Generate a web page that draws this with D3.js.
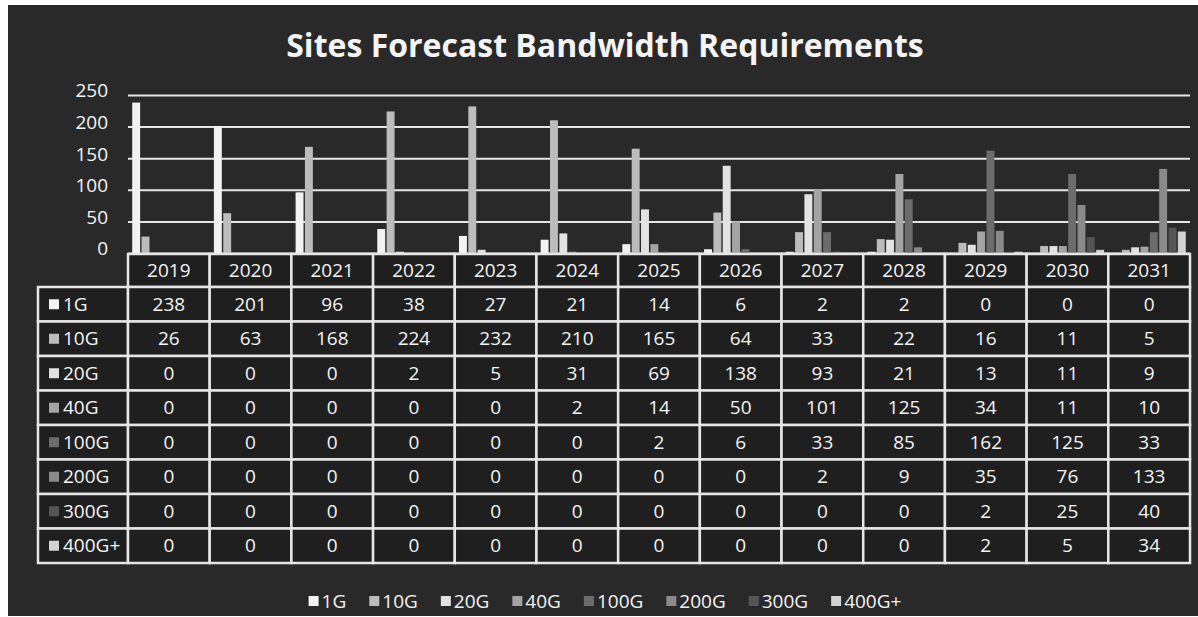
<!DOCTYPE html>
<html>
<head>
<meta charset="utf-8">
<script src="https://cdn.jsdelivr.net/npm/d3@7"></script>
<style>
  html, body { margin: 0; padding: 0; background: #fff; }
  svg { display: block; font-family: "Open Sans", "Noto Sans", sans-serif; }
</style>
</head>
<body>
<div id="viz"></div>
<script>
// data
const years = ["2019", "2020", "2021", "2022", "2023", "2024", "2025", "2026", "2027", "2028", "2029", "2030", "2031"];
const seriesNames = ["1G", "10G", "20G", "40G", "100G", "200G", "300G", "400G+"];
const s1G   = [238, 201, 96, 38, 27, 21, 14, 6, 2, 2, 0, 0, 0];
const s10G  = [26, 63, 168, 224, 232, 210, 165, 64, 33, 22, 16, 11, 5];
const s20G  = [0, 0, 0, 2, 5, 31, 69, 138, 93, 21, 13, 11, 9];
const s40G  = [0, 0, 0, 0, 0, 2, 14, 50, 101, 125, 34, 11, 10];
const s100G = [0, 0, 0, 0, 0, 0, 2, 6, 33, 85, 162, 125, 33];
const s200G = [0, 0, 0, 0, 0, 0, 0, 0, 2, 9, 35, 76, 133];
const s300G = [0, 0, 0, 0, 0, 0, 0, 0, 0, 0, 2, 25, 40];
const s400G = [0, 0, 0, 0, 0, 0, 0, 0, 0, 0, 2, 5, 34];
const yTicks = [0, 50, 100, 150, 200, 250];

const seriesValues = [s1G, s10G, s20G, s40G, s100G, s200G, s300G, s400G];

const colorMap = {
  "1G": "#f2f2f2",
  "10G": "#bcbcbc",
  "20G": "#e2e2e2",
  "40G": "#a4a4a4",
  "100G": "#6c6c6c",
  "200G": "#8a8a8a",
  "300G": "#555555",
  "400G+": "#d2d2d2"
};

const W = 1198, H = 617;
const plotLeft = 128, plotRight = 1190;
const plotTop = 95, zeroY = 253;
const lineColor = "#e6e6e6";
const textColor = "#f4f4f4";

const svg = d3.select("#viz")
  .append("svg")
  .attr("width", W)
  .attr("height", H);

// dark panel
svg.append("rect")
  .attr("x", 8).attr("y", 5)
  .attr("width", W - 8).attr("height", H - 6)
  .attr("fill", "#292929");

// title
svg.append("text")
  .attr("x", 605).attr("y", 57)
  .attr("text-anchor", "middle")
  .style("fill", textColor)
  .style("font-size", "32px")
  .style("font-weight", "bold")
  .text("Sites Forecast Bandwidth Requirements");

const y = d3.scaleLinear().domain([0, 250]).range([zeroY, plotTop]);
const x = d3.scaleBand().domain(years).range([plotLeft, plotRight]);
const xInner = d3.scaleBand().domain(seriesNames)
  .range([0, x.bandwidth()])
  .paddingInner(0.15)
  .paddingOuter(0.45);

// gridlines + y labels
const yAxis = svg.append("g")
  .attr("transform", `translate(${plotLeft},0)`)
  .call(d3.axisLeft(y).tickValues(yTicks).tickSize(-(plotRight - plotLeft)).tickPadding(20));
yAxis.select(".domain").remove();
yAxis.selectAll(".tick line")
  .attr("stroke", lineColor)
  .attr("stroke-width", 2);
yAxis.selectAll(".tick text")
  .style("fill", textColor)
  .style("font-size", "19px")
  .style("font-family", "'Open Sans', sans-serif")
  .attr("dy", "0.1em");

// bars
const barData = [];
seriesNames.forEach((name, i) => {
  years.forEach((yr, j) => {
    barData.push({ series: name, year: yr, value: seriesValues[i][j] });
  });
});

svg.append("g")
  .selectAll("rect")
  .data(barData)
  .join("rect")
  .attr("x", d => x(d.year) + xInner(d.series))
  .attr("y", d => y(d.value))
  .attr("width", xInner.bandwidth())
  .attr("height", d => zeroY - y(d.value))
  .attr("fill", d => colorMap[d.series]);

// data table
const headerTop = 254, rowTop = 287, tableBottom = 563, labelLeft = 38;
const rowY = d3.scaleBand().domain(seriesNames).range([rowTop, tableBottom]);
const table = svg.append("g");

// header row
years.forEach(yr => {
  table.append("rect")
    .attr("x", x(yr)).attr("y", headerTop)
    .attr("width", x.bandwidth()).attr("height", rowTop - headerTop)
    .attr("fill", "#1f1f1f")
    .attr("stroke", lineColor).attr("stroke-width", 2.5);
  table.append("text")
    .attr("x", x(yr) + x.bandwidth() / 2)
    .attr("y", (headerTop + rowTop) / 2)
    .attr("dy", "0.35em")
    .attr("text-anchor", "middle")
    .style("fill", textColor)
    .style("font-size", "19px")
    .text(yr);
});

seriesNames.forEach((name, i) => {
  const ry = rowY(name), rh = rowY.bandwidth();
  // label cell
  table.append("rect")
    .attr("x", labelLeft).attr("y", ry)
    .attr("width", plotLeft - labelLeft).attr("height", rh)
    .attr("fill", "#1f1f1f")
    .attr("stroke", lineColor).attr("stroke-width", 2.5);
  table.append("rect")
    .attr("x", 49).attr("y", ry + rh / 2 - 5)
    .attr("width", 10).attr("height", 10)
    .attr("fill", colorMap[name]);
  table.append("text")
    .attr("x", 63)
    .attr("y", ry + rh / 2)
    .attr("dy", "0.35em")
    .style("fill", textColor)
    .style("font-size", "19px")
    .text(name);

  years.forEach((yr, j) => {
    table.append("rect")
      .attr("x", x(yr)).attr("y", ry)
      .attr("width", x.bandwidth()).attr("height", rh)
      .attr("fill", "#1f1f1f")
      .attr("stroke", lineColor).attr("stroke-width", 2.5);
    table.append("text")
      .attr("x", x(yr) + x.bandwidth() / 2)
      .attr("y", ry + rh / 2)
      .attr("dy", "0.35em")
      .attr("text-anchor", "middle")
      .style("fill", textColor)
      .style("font-size", "19px")
      .text(seriesValues[i][j]);
  });
});

// legend
const legend = svg.append("g");
const items = legend.selectAll("g")
  .data(seriesNames)
  .join("g");
items.append("rect")
  .attr("y", -5)
  .attr("width", 10).attr("height", 10)
  .attr("fill", d => colorMap[d]);
items.append("text")
  .attr("x", 13)
  .attr("dy", "0.35em")
  .style("fill", textColor)
  .style("font-size", "19px")
  .text(d => d);

let cx = 0;
const gap = 23;
items.each(function () {
  const g = d3.select(this);
  const w = 13 + g.select("text").node().getComputedTextLength();
  g.attr("transform", `translate(${cx},0)`);
  cx += w + gap;
});
const total = cx - gap;
legend.attr("transform", `translate(${605 - total / 2},601)`);
</script>
</body>
</html>
